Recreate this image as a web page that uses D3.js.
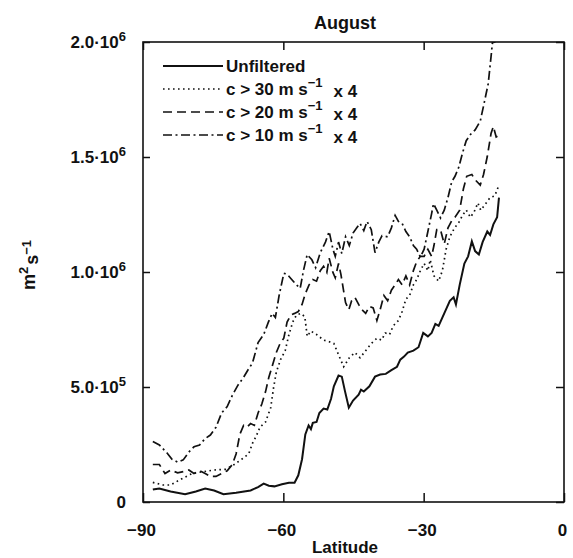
<!DOCTYPE html>
<html>
<head>
<meta charset="utf-8">
<title>August</title>
<style>
  body { margin: 0; background: #fff; }
  svg text { font-family: "Liberation Sans", Arial, Helvetica, sans-serif; font-weight: bold; fill: #111; }
</style>
</head>
<body>
<svg width="573" height="558"></svg>
<script src="https://d3js.org/d3.v7.min.js"></script>
<script>
// data (latitude, value in m^2 s^-1 / 1e6)
const unfilteredLat = [-87.9,-86.5,-84.1,-81.0,-78.7,-76.7,-74.8,-72.8,-70.1,-67.0,-65.4,-64.2,-63.1,-61.9,-60.3,-58.8,-57.6,-56.8,-56.0,-55.3,-54.6,-54.1,-53.7,-52.9,-52.3,-51.4,-50.6,-49.8,-49.2,-48.2,-47.5,-46.8,-46.0,-45.1,-43.9,-43.4,-42.8,-41.6,-40.4,-39.3,-38.1,-36.9,-35.7,-35.0,-34.2,-33.4,-32.2,-31.1,-30.1,-29.1,-28.3,-27.5,-26.8,-25.6,-24.4,-23.6,-23.1,-22.3,-21.3,-20.5,-19.7,-19.0,-18.2,-17.4,-16.4,-15.8,-15.1,-14.3,-13.9];
const unfilteredVal = [0.054,0.059,0.046,0.034,0.046,0.059,0.050,0.034,0.040,0.050,0.065,0.080,0.071,0.068,0.077,0.084,0.084,0.116,0.186,0.294,0.333,0.317,0.344,0.348,0.387,0.406,0.402,0.449,0.503,0.550,0.545,0.480,0.410,0.441,0.467,0.488,0.480,0.503,0.545,0.554,0.557,0.573,0.588,0.619,0.632,0.650,0.658,0.673,0.735,0.720,0.735,0.774,0.766,0.820,0.875,0.890,0.859,0.944,1.037,1.068,1.133,1.091,1.076,1.130,1.176,1.161,1.207,1.238,1.323];

const c30Lat = [-87.9,-85.7,-84.1,-81.8,-79.5,-77.1,-74.8,-72.4,-70.5,-68.9,-67.4,-66.6,-65.8,-65.0,-63.8,-62.7,-62.1,-61.5,-60.6,-59.6,-58.8,-58.0,-57.2,-56.2,-55.4,-54.9,-54.1,-52.9,-51.4,-50.2,-49.2,-48.4,-47.1,-45.9,-44.7,-43.6,-42.4,-41.2,-40.0,-39.0,-38.2,-37.3,-36.5,-35.4,-34.6,-33.8,-33.0,-32.2,-31.5,-30.7,-29.9,-29.1,-28.6,-27.8,-26.8,-26.0,-25.2,-24.4,-23.4,-22.5,-21.7,-20.9,-20.0,-19.2,-18.4,-17.8,-16.9,-15.8,-14.8,-13.9];
const c30Val = [0.085,0.074,0.074,0.100,0.124,0.132,0.139,0.142,0.163,0.186,0.209,0.255,0.286,0.325,0.348,0.410,0.495,0.565,0.619,0.658,0.728,0.782,0.813,0.820,0.805,0.720,0.743,0.728,0.704,0.697,0.689,0.650,0.588,0.627,0.650,0.627,0.658,0.689,0.712,0.704,0.735,0.728,0.766,0.789,0.828,0.882,0.898,0.944,0.967,1.006,1.037,1.006,1.053,0.983,0.960,1.006,1.099,1.153,1.192,1.215,1.246,1.269,1.238,1.262,1.300,1.269,1.293,1.324,1.331,1.378];

const c20Lat = [-87.9,-86.5,-85.3,-84.1,-82.6,-81.4,-80.2,-79.1,-77.9,-76.7,-75.6,-74.4,-73.2,-72.0,-70.9,-70.1,-69.3,-68.5,-67.8,-67.0,-66.2,-65.4,-64.6,-63.8,-63.1,-62.3,-61.5,-60.7,-59.9,-59.2,-58.4,-57.6,-56.8,-56.0,-55.3,-54.5,-53.7,-52.9,-52.1,-51.4,-50.7,-50.2,-49.4,-48.9,-48.2,-47.7,-47.2,-46.7,-46.0,-45.4,-44.7,-43.9,-43.2,-42.4,-41.6,-40.8,-40.0,-39.3,-38.5,-37.7,-36.9,-36.1,-35.4,-34.6,-33.8,-33.0,-32.2,-31.5,-30.7,-29.9,-29.1,-28.3,-27.8,-27.2,-26.4,-25.6,-24.8,-24.0,-23.3,-22.3,-21.5,-20.8,-19.7,-19.0,-17.9,-17.2,-16.4,-15.6,-15.1,-14.5,-13.9];
const c20Val = [0.163,0.163,0.124,0.139,0.127,0.132,0.139,0.124,0.136,0.124,0.111,0.111,0.124,0.136,0.163,0.209,0.294,0.333,0.325,0.341,0.333,0.387,0.426,0.480,0.542,0.596,0.650,0.689,0.712,0.782,0.813,0.820,0.828,0.859,0.906,0.944,0.967,0.960,1.006,1.025,0.998,1.060,0.998,0.975,1.037,0.991,0.929,0.867,0.836,0.875,0.890,0.859,0.836,0.820,0.851,0.844,0.789,0.836,0.898,0.875,0.921,0.944,0.967,0.944,0.983,0.944,1.006,1.045,1.068,1.068,1.099,1.068,1.115,1.184,1.184,1.122,1.192,1.223,1.238,1.269,1.362,1.416,1.424,1.401,1.378,1.424,1.502,1.602,1.633,1.587,1.594];

const c10Lat = [-87.9,-86.5,-84.9,-83.8,-82.6,-81.4,-80.2,-79.1,-77.9,-76.7,-75.6,-74.4,-73.2,-72.0,-70.9,-69.7,-68.5,-67.6,-66.6,-65.4,-64.2,-63.2,-62.4,-61.7,-60.9,-59.9,-59.2,-58.4,-57.2,-56.4,-55.7,-54.9,-53.9,-53.1,-52.1,-51.0,-50.2,-49.4,-48.9,-48.2,-47.5,-46.7,-45.9,-45.1,-44.3,-43.6,-42.8,-42.1,-41.2,-40.4,-39.6,-38.9,-37.7,-36.9,-36.1,-35.4,-34.6,-33.8,-33.0,-32.2,-31.5,-30.7,-29.9,-29.1,-28.3,-27.9,-27.2,-26.4,-25.6,-24.8,-24.0,-23.3,-22.5,-21.7,-20.9,-20.0,-19.0,-17.9,-17.0,-16.2,-15.6,-15.3,-14.8,-14.2];
const c10Val = [0.263,0.248,0.214,0.186,0.173,0.183,0.217,0.240,0.248,0.276,0.291,0.325,0.387,0.415,0.464,0.508,0.542,0.573,0.604,0.693,0.728,0.782,0.820,0.802,0.898,0.994,0.991,0.972,0.944,0.929,1.006,1.076,1.053,1.019,1.084,1.130,1.176,1.099,1.068,1.130,1.080,1.153,1.115,1.169,1.192,1.211,1.180,1.220,1.184,1.084,1.130,1.158,1.153,1.192,1.246,1.220,1.211,1.176,1.153,1.115,1.099,1.065,1.099,1.176,1.254,1.297,1.269,1.235,1.269,1.324,1.393,1.416,1.455,1.517,1.571,1.598,1.618,1.656,1.741,1.819,1.935,1.997,2.000,2.05];

const seriesNames = ["Unfiltered", "c > 30 m s", "c > 20 m s", "c > 10 m s"];
const seriesSup = [null, "\u22121", "\u22121", "\u22121"];
const seriesSuffix = [null, "x 4", "x 4", "x 4"];
const seriesDash = [null, "1.6 3.4", "9 5", "9 3.5 2 3.5"];

const xTicks = [-90, -60, -30, 0];
const yTicks = [0, 0.5, 1.0, 1.5, 2.0];
const yTickMant = ["0", "5.0\u00b710", "1.0\u00b710", "1.5\u00b710", "2.0\u00b710"];
const yTickExp = [null, "5", "6", "6", "6"];

const series = [
  { lat: unfilteredLat, val: unfilteredVal },
  { lat: c30Lat, val: c30Val },
  { lat: c20Lat, val: c20Val },
  { lat: c10Lat, val: c10Val }
];

const svg = d3.select("svg");
const margin = { left: 143, right: 9, top: 42, bottom: 56 };
const W = 573 - margin.left - margin.right;
const H = 558 - margin.top - margin.bottom;

const x = d3.scaleLinear().domain([-90, 0]).range([0, W]);
const y = d3.scaleLinear().domain([0, 2.0]).range([H, 0]);

const g = svg.append("g").attr("transform", `translate(${margin.left},${margin.top})`);

g.append("clipPath").attr("id", "plotclip")
  .append("rect").attr("width", W).attr("height", H);

// inward ticks on all four sides
g.append("g").attr("transform", `translate(0,${H})`)
  .call(d3.axisBottom(x).tickValues(xTicks).tickSizeInner(-9).tickSizeOuter(0).tickPadding(22))
  .call(a => a.select(".domain").remove())
  .call(a => a.selectAll("text").attr("font-size", 17).attr("dx", "-2"));
g.append("g")
  .call(d3.axisTop(x).tickValues(xTicks).tickSizeInner(-8).tickSizeOuter(0).tickFormat(""))
  .call(a => a.select(".domain").remove());
g.append("g")
  .call(d3.axisLeft(y).tickValues(yTicks).tickSizeInner(-7).tickSizeOuter(0).tickPadding(17))
  .call(a => a.select(".domain").remove())
  .call(a => a.selectAll("text").attr("font-size", 17).text(null)
    .each(function(d, i) {
      const t = d3.select(this);
      t.append("tspan").text(yTickMant[i]);
      if (yTickExp[i]) t.append("tspan").attr("dy", "-0.55em").attr("font-size", 13).text(yTickExp[i]);
    }));
g.append("g").attr("transform", `translate(${W},0)`)
  .call(d3.axisRight(y).tickValues(yTicks).tickSizeInner(-8).tickSizeOuter(0).tickFormat(""))
  .call(a => a.select(".domain").remove());
g.selectAll(".tick line").attr("stroke", "#111").attr("stroke-width", 1.5);

g.append("rect").attr("width", W).attr("height", H)
  .attr("fill", "none").attr("stroke", "#111").attr("stroke-width", 1.6);

const line = d3.line().x(d => x(d[0])).y(d => y(d[1]));

g.append("g").attr("clip-path", "url(#plotclip)")
  .selectAll("path").data(series).join("path")
  .attr("d", s => line(d3.zip(s.lat, s.val)))
  .attr("fill", "none").attr("stroke", "#111")
  .attr("stroke-width", (s, i) => i === 0 ? 2 : 1.7)
  .attr("stroke-dasharray", (s, i) => seriesDash[i]);

// legend
const lg = g.append("g").attr("transform", "translate(20,24)");
seriesNames.forEach((name, i) => {
  const row = lg.append("g").attr("transform", `translate(0,${i * 23})`);
  row.append("line").attr("x1", 0).attr("x2", 60).attr("y1", 0).attr("y2", 0)
    .attr("stroke", "#111").attr("stroke-width", i === 0 ? 2 : 1.7)
    .attr("stroke-dasharray", seriesDash[i]);
  const t = row.append("text").attr("x", 63).attr("y", 6).attr("font-size", 17);
  t.append("tspan").text(name);
  if (seriesSup[i]) {
    t.append("tspan").attr("dy", "-0.6em").attr("font-size", 13).text(seriesSup[i]);
    t.append("tspan").attr("dy", "0.6em").attr("dx", 11).text(seriesSuffix[i]);
  }
});

// titles
svg.append("text").attr("x", 345).attr("y", 29).attr("text-anchor", "middle")
  .attr("font-size", 18).text("August");
svg.append("text").attr("x", 345).attr("y", 553).attr("text-anchor", "middle")
  .attr("font-size", 17).text("Latitude");

const yt = svg.append("text").attr("transform", "translate(35,265) rotate(-90)")
  .attr("text-anchor", "middle").attr("font-size", 18);
yt.append("tspan").text("m");
yt.append("tspan").attr("dy", "-0.55em").attr("font-size", 13).text("2");
yt.append("tspan").attr("dy", "0.55em").attr("dx", 2).text("s");
yt.append("tspan").attr("dy", "-0.55em").attr("font-size", 13).text("\u22121");
</script>
</body>
</html>
